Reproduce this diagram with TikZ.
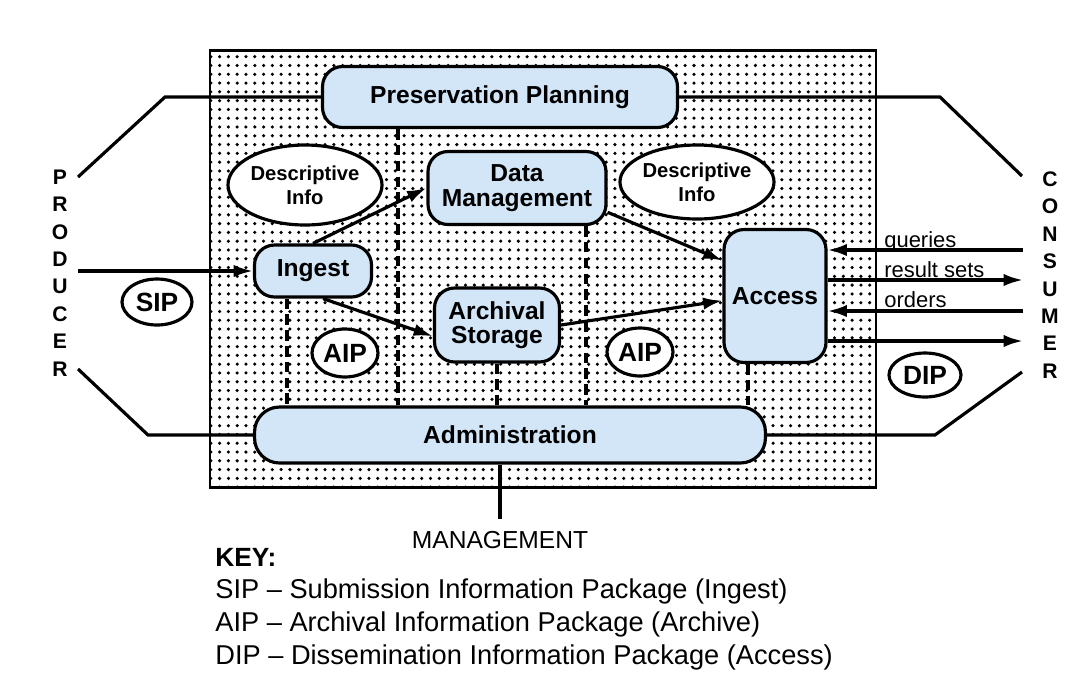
\documentclass[tikz,border=0pt]{standalone}
\usepackage{fontspec}
\setmainfont{Liberation Sans}
\usetikzlibrary{shapes.geometric,arrows.meta,patterns.meta,calc}
\definecolor{oaisblue}{RGB}{210,230,248}
\tikzset{
    box/.style={draw, line width=1.8pt, fill=oaisblue, rounded corners=0.4cm, inner sep=0pt, align=center, font=\bfseries\fontsize{14}{14}\selectfont},
    pkg/.style={draw, line width=1.8pt, fill=white, ellipse, inner sep=0pt, align=center, font=\bfseries\fontsize{15}{15}\selectfont},
    info/.style={pkg, font=\bfseries\fontsize{11.5}{13.6}\selectfont},
    arr/.style={line width=1.8pt, -{Latex[length=11pt,width=7pt]}},
    wire/.style={line width=1.8pt},
    dashline/.style={line width=2pt, dash pattern=on 6pt off 3pt},
    flowlbl/.style={anchor=base west, inner sep=0pt, font=\fontsize{12.5}{14}\selectfont},
    side/.style={align=center, inner sep=0pt, font=\bfseries\fontsize{12}{15.6}\selectfont},
}
\begin{document}
\begin{tikzpicture}[x=0.02cm, y=-0.02cm]
    \fill[white] (0,0) rectangle (1090,698);
    \useasboundingbox (0,0) rectangle (1090,698);

    % Archive frame
    \draw[line width=1.7pt, pattern={Dots[distance=5pt,radius=1pt]}] (210,50) rectangle (876,487);

    % Functional entities
    \node[box, minimum width=7.1cm, minimum height=1.22cm] (pp) at (500,97) {Preservation Planning};
    \node[box, minimum width=3.56cm, minimum height=1.46cm] (dm) at (517,188) {Data\\Management};
    \node[box, minimum width=2.34cm, minimum height=1.04cm] (ingest) at (313,271) {Ingest};
    \node[box, minimum width=2.5cm, minimum height=1.48cm] (storage) at (497,325) {Archival\\Storage};
    \node[box, minimum width=2.04cm, minimum height=2.66cm] (access) at (775,296) {Access};
    \node[box, minimum width=10.22cm, minimum height=1.12cm, rounded corners=0.5cm] (admin) at (510,435) {Administration};

    % Information packages
    \node[info, minimum width=2.88cm, minimum height=1.6cm] (descl) at (305,185) {Descriptive\\Info};
    \node[info, minimum width=2.8cm, minimum height=1.48cm] (descr) at (697,182) {Descriptive\\Info};
    \node[pkg, minimum width=1.4cm, minimum height=0.92cm] (sip) at (157,302) {SIP};
    \node[pkg, minimum width=1.32cm, minimum height=0.96cm] (aipl) at (345,353) {AIP};
    \node[pkg, minimum width=1.32cm, minimum height=0.96cm] (aipr) at (640,352) {AIP};
    \node[pkg, minimum width=1.44cm, minimum height=0.88cm] (dip) at (925,375) {DIP};

    % Outside actors
    \node[side] (producer) at (60,273) {P\\R\\O\\D\\U\\C\\E\\R};
    \node[side] (consumer) at (1050,275) {C\\O\\N\\S\\U\\M\\E\\R};
    \node[font=\fontsize{14}{14}\selectfont, inner xsep=0pt, inner ysep=7pt] (mgmt) at (500,540) {MANAGEMENT};

    % Dashed links down to Administration
    \coordinate (d1) at ($(ingest.south)+(-26,0)$);
    \coordinate (d2) at ($(pp.south)+(-102,0)$);
    \coordinate (d3) at ($(dm.south)+(69,0)$);
    \coordinate (d4) at (storage.south);
    \coordinate (d5) at ($(access.south)+(-27,0)$);
    \foreach \d in {d1,d2,d3,d4,d5}
        \draw[dashline] (\d) -- (\d |- admin.north);

    % Producer side
    \coordinate (ptop) at (78,177);
    \coordinate (pmid) at (78,271);
    \coordinate (pbot) at (78,369);
    \draw[wire] (ptop) -- (165,97) -- (pp.west);
    \draw[arr] (pmid) -- (ingest.west);
    \draw[wire] (pbot) -- (148,435) -- (admin.west);

    % Consumer side
    \coordinate (ctop) at (1022,176);
    \coordinate (cbot) at (1022,372);
    \draw[wire] (pp.east) -- (940,97) -- (ctop);
    \draw[wire] (admin.east) -- (935,435) -- (cbot);
    \coordinate (cq) at (1023,250);
    \coordinate (cr) at (1023,280);
    \coordinate (co) at (1023,311);
    \coordinate (cd) at (1023,341);
    \draw[arr] (cq) -- (cq -| access.east);
    \draw[arr] (cr -| access.east) -- (cr);
    \draw[arr] (co) -- (co -| access.east);
    \draw[arr] (cd -| access.east) -- (cd);
    \node[flowlbl] (qlbl) at (884,247) {queries};
    \node[flowlbl] (rlbl) at (884,277) {result sets};
    \node[flowlbl] (olbl) at (884,307) {orders};

    % Internal flows
    \draw[arr] (ingest.north) -- (dm.west);
    \draw[arr] (ingest.-70) -- (storage.190);
    \draw[arr] (dm.-15) -- (access.146);
    \draw[arr] (storage.east) -- (access.185);
    \draw[wire] (admin.south -| mgmt.north) -- (mgmt.north);

    % Key
    \node[anchor=base west, inner sep=0pt, font=\bfseries\fontsize{15}{15}\selectfont] (key) at (215,566) {KEY:};
    \node[anchor=base west, inner sep=0pt, font=\fontsize{15.5}{15.5}\selectfont] (keysip) at (215,598) {SIP – Submission Information Package (Ingest)};
    \node[anchor=base west, inner sep=0pt, font=\fontsize{15.5}{15.5}\selectfont] (keyaip) at (215,631) {AIP – Archival Information Package (Archive)};
    \node[anchor=base west, inner sep=0pt, font=\fontsize{15.5}{15.5}\selectfont] (keydip) at (215,664) {DIP – Dissemination Information Package (Access)};
\end{tikzpicture}
\end{document}
